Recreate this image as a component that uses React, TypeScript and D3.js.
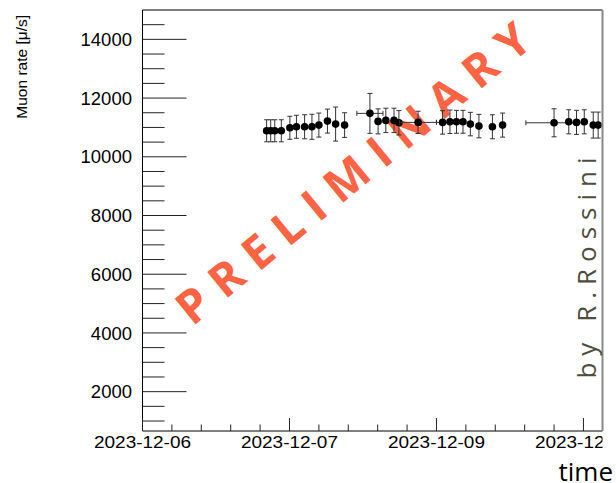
import React from 'react';
import * as d3 from 'd3';

const W = 616;
const H = 483;
const frame = { left: 142.5, right: 602.5, top: 10, bottom: 431 };

// measurement times (UTC)
const times = [
  '2023-12-07T06:24', '2023-12-07T07:24', '2023-12-07T08:24', '2023-12-07T10:00',
  '2023-12-07T12:06', '2023-12-07T13:42', '2023-12-07T15:42', '2023-12-07T17:30',
  '2023-12-07T19:12', '2023-12-07T21:18', '2023-12-07T23:18', '2023-12-08T01:30',
  '2023-12-08T07:42', '2023-12-08T09:42', '2023-12-08T11:36', '2023-12-08T13:36',
  '2023-12-08T14:48', '2023-12-08T19:30', '2023-12-09T01:30', '2023-12-09T03:18',
  '2023-12-09T04:54', '2023-12-09T06:30', '2023-12-09T08:18', '2023-12-09T10:24',
  '2023-12-09T13:42', '2023-12-09T16:12', '2023-12-10T04:48', '2023-12-10T08:24',
  '2023-12-10T10:18', '2023-12-10T12:12', '2023-12-10T14:24', '2023-12-10T15:36',
];
const rates = [
  10886, 10886, 10886, 10886, 10988, 11022, 11022, 11022,
  11080, 11216, 11114, 11080, 11479, 11206, 11240, 11240,
  11158, 11172, 11172, 11192, 11192, 11192, 11114, 11046,
  11022, 11080, 11158, 11192, 11172, 11192, 11080, 11080,
];
const rateErrors = [
  375, 375, 375, 375, 392, 392, 409, 426,
  409, 409, 580, 420, 680, 426, 415, 415,
  415, 380, 400, 400, 390, 390, 400, 400,
  410, 410, 477, 410, 410, 410, 443, 443,
];
// half width of the time bin in hours (0 = hidden under the marker)
const timeErrorsHours = [
  0, 0, 0, 0, 0, 0, 0, 0,
  0, 0, 0, 0, 3.2, 0, 0, 0,
  0, 4.5, 1.5, 0, 0, 0, 0, 0,
  0, 0, 6.9, 0, 0, 0, 0, 0,
];

const yMajorTicks = [2000, 4000, 6000, 8000, 10000, 12000, 14000];
const xMajorTicks = ['2023-12-06T00:00', '2023-12-07T12:00', '2023-12-09T00:00', '2023-12-10T12:00'];
const xStart = '2023-12-06T00:00';
const xEnd = '2023-12-10T16:40';

const parse = d3.utcParse('%Y-%m-%dT%H:%M');
const fmt = d3.utcFormat('%Y-%m-%d');
const HOUR = 3600 * 1000;

export default function App() {
  const x = d3.scaleUtc()
    .domain([parse(xStart)!, parse(xEnd)!])
    .range([frame.left, frame.right]);
  const y = d3.scaleLinear()
    .domain([660, 15000])
    .range([frame.bottom, frame.top]);

  const points = times.map((t, i) => ({
    t: parse(t)!,
    v: rates[i],
    e: rateErrors[i],
    xe: timeErrorsHours[i],
  }));

  const yMinor = d3.range(1000, 15000, 500).filter(v => !yMajorTicks.includes(v));
  const majors = xMajorTicks.map(s => parse(s)!);
  const minorStep = 7.2 * HOUR;
  const xMinor = d3.range(+majors[0], +x.domain()[1], minorStep)
    .filter(ms => !majors.some(m => Math.abs(+m - ms) < 1000));

  const r = 3.8;
  const cap = 2.5;

  return (
    <svg width={W} height={H} style={{ position: 'absolute', left: 0, top: 0, background: '#fff' }}
      fontFamily="'Liberation Sans', Arial, sans-serif">
      <defs>
        <clipPath id="frameClip">
          <rect x={frame.left} y={frame.top} width={frame.right - frame.left} height={frame.bottom - frame.top} />
        </clipPath>
        <clipPath id="labelClip">
          <rect x={0} y={0} width={frame.right} height={H} />
        </clipPath>
      </defs>

      {/* watermark */}
      <g transform="translate(353,173) rotate(-39.5)">
        <text textAnchor="middle" dx={6.5} dy="0.36em" fontFamily="'Open Sans', sans-serif"
          fontWeight="bold" fontSize={46} letterSpacing={13} fill="#fe6443">PRELIMINARY</text>
      </g>

      {/* data */}
      <g clipPath="url(#frameClip)">
        {points.map((p, i) => {
          const cx = x(p.t);
          const cy = y(p.v);
          const y0 = y(p.v - p.e);
          const y1 = y(p.v + p.e);
          const xa = x(new Date(+p.t - p.xe * HOUR));
          const xb = x(new Date(+p.t + p.xe * HOUR));
          return (
            <g key={i} stroke="#333" strokeWidth={1}>
              <line x1={cx} x2={cx} y1={y0} y2={y1} />
              <line x1={cx - cap} x2={cx + cap} y1={y0} y2={y0} />
              <line x1={cx - cap} x2={cx + cap} y1={y1} y2={y1} />
              {p.xe > 0 && (
                <>
                  <line x1={xa} x2={xb} y1={cy} y2={cy} />
                  <line x1={xa} x2={xa} y1={cy - cap} y2={cy + cap} />
                  <line x1={xb} x2={xb} y1={cy - cap} y2={cy + cap} />
                </>
              )}
              <circle cx={cx} cy={cy} r={r} fill="#000" stroke="none" />
            </g>
          );
        })}
      </g>

      {/* frame */}
      <line x1={frame.left} x2={frame.right} y1={frame.top} y2={frame.top} stroke="#000" />
      <line x1={frame.left} x2={frame.left} y1={frame.top} y2={frame.bottom} stroke="#000" />
      <line x1={frame.left} x2={frame.right} y1={frame.bottom} y2={frame.bottom} stroke="#000" />
      <line x1={frame.right} x2={frame.right} y1={frame.top} y2={frame.bottom} stroke="#888" strokeWidth={2} />

      {/* y axis */}
      {yMajorTicks.map(v => (
        <g key={v}>
          <line x1={frame.left} x2={frame.left + 44} y1={y(v)} y2={y(v)} stroke="#222" />
          <text x={132} y={y(v)} dy="0.36em" textAnchor="end" fontSize={18.5} fill="#000">{v}</text>
        </g>
      ))}
      {yMinor.map(v => (
        <line key={v} x1={frame.left} x2={frame.left + 22} y1={y(v)} y2={y(v)} stroke="#222" />
      ))}
      <text transform="translate(26.5,15) rotate(-90)" textAnchor="end" fontSize={15.5} fill="#000">
        Muon rate [μ/s]
      </text>

      {/* x axis */}
      {majors.map((d, i) => (
        <line key={i} x1={x(d)} x2={x(d)} y1={frame.bottom} y2={frame.bottom - 13} stroke="#222" />
      ))}
      {xMinor.map(ms => (
        <line key={ms} x1={x(new Date(ms))} x2={x(new Date(ms))} y1={frame.bottom} y2={frame.bottom - 6.5} stroke="#222" />
      ))}
      <g clipPath="url(#labelClip)">
        {majors.map((d, i) => (
          <text key={i} x={x(d)} y={448} textAnchor="middle" fontSize={16} textLength={97}
            lengthAdjust="spacingAndGlyphs" fill="#000">{fmt(d)}</text>
        ))}
      </g>
      <text x={613} y={481} textAnchor="end" fontFamily="'Open Sans', sans-serif" fontSize={26} fill="#000">time</text>

      {/* author */}
      <text transform="translate(596,268) rotate(-90)" textAnchor="middle" dx={3.5}
        fontFamily="'Open Sans', sans-serif" fontSize={26} letterSpacing={7} fill="#4d4d40">by R.Rossini</text>
    </svg>
  );
}
